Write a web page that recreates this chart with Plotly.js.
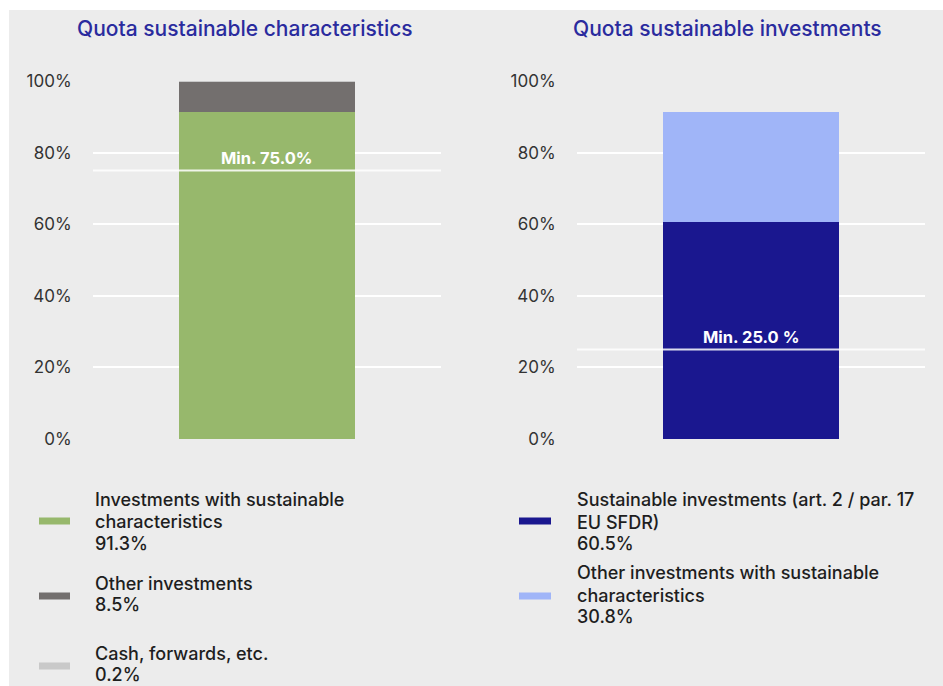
<!DOCTYPE html>
<html>
<head>
<meta charset="utf-8">
<script src="https://cdn.plot.ly/plotly-3.0.1.min.js"></script>
<style>
  html, body { margin: 0; padding: 0; background: #ffffff; }
  #chart { width: 943px; height: 686px; }
</style>
</head>
<body>
<div id="chart"></div>
<script>
// ---- Data ----
const panelTitles = ["Quota sustainable characteristics", "Quota sustainable investments"];
const category = ["Quota"];

const leftSeriesNames = ["Investments with sustainable characteristics", "Other investments", "Cash, forwards, etc."];
const leftSeriesValues = [91.3, 8.5, 0.2];
const leftLegendLines = [["Investments with sustainable", "characteristics", "91.3%"], ["Other investments", "8.5%"], ["Cash, forwards, etc.", "0.2%"]];

const rightSeriesNames = ["Sustainable investments (art. 2 / par. 17 EU SFDR)", "Other investments with sustainable characteristics"];
const rightSeriesValues = [60.5, 30.8];
const rightLegendLines = [["Sustainable investments (art. 2 / par. 17", "EU SFDR)", "60.5%"], ["Other investments with sustainable", "characteristics", "30.8%"]];

const minimumValues = [75.0, 25.0];
const minimumLabels = ["Min. 75.0%", "Min. 25.0 %"];

const yTickValues = [0, 20, 40, 60, 80, 100];
const yTickLabels = ["0%", "20%", "40%", "60%", "80%", "100%"];

// ---- Styles / layout geometry ----
const leftColors = ["#97b86c", "#736f6e", "#c9c9c9"];
const rightColors = ["#1a178f", "#a0b5f8"];
const W = 943, H = 686;
const px = x => x / W;
const py = y => 1 - y / H;
const FONT = "Inter, 'Open Sans', sans-serif";

const traces = [];
leftSeriesNames.forEach((n, i) => {
  traces.push({type: "bar", name: n, x: category, y: [leftSeriesValues[i]],
    xaxis: "x", yaxis: "y", width: 0.506, marker: {color: leftColors[i], line: {width: 0}},
    showlegend: false, hoverinfo: "name+y"});
});
rightSeriesNames.forEach((n, i) => {
  traces.push({type: "bar", name: n, x: category, y: [rightSeriesValues[i]],
    xaxis: "x2", yaxis: "y2", width: 0.506, marker: {color: rightColors[i], line: {width: 0}},
    showlegend: false, hoverinfo: "name+y"});
});

const yAxisBase = {
  range: [0, 100], tickvals: yTickValues, ticktext: yTickLabels,
  showgrid: true, gridcolor: "#ffffff", gridwidth: 2, zeroline: false, showline: false,
  ticks: "outside", ticklen: 17, tickcolor: "rgba(0,0,0,0)",
  tickfont: {family: FONT, size: 17, color: "#333333"}, fixedrange: true
};
const xAxisBase = {range: [-0.5, 0.5], showticklabels: false, showgrid: false, zeroline: false, showline: false, fixedrange: true};

const shapes = [
  {type: "rect", xref: "paper", yref: "paper", x0: px(9), x1: 1, y0: 0, y1: py(10),
   fillcolor: "#ececec", line: {width: 0}, layer: "below"}
];
["x", "x2"].forEach((xa, i) => {
  const ya = i === 0 ? "y" : "y2";
  shapes.push({type: "line", xref: xa + " domain", yref: ya, x0: 0, x1: 1,
    y0: minimumValues[i], y1: minimumValues[i], line: {color: "rgba(255,255,255,0.85)", width: 2}, layer: "above"});
});

// legend swatches (pixel geometry)
const legendLeftSwatchY = [521, 596, 666];
const legendRightSwatchY = [521, 596];
legendLeftSwatchY.forEach((y, i) => {
  shapes.push({type: "rect", xref: "paper", yref: "paper", x0: px(39), x1: px(70),
    y0: py(y + 3.5), y1: py(y - 3.5), fillcolor: leftColors[i], line: {width: 0}});
});
legendRightSwatchY.forEach((y, i) => {
  shapes.push({type: "rect", xref: "paper", yref: "paper", x0: px(519), x1: px(551),
    y0: py(y + 3.5), y1: py(y - 3.5), fillcolor: rightColors[i], line: {width: 0}});
});

const annotations = [];
// panel titles
[[245, panelTitles[0]], [727, panelTitles[1]]].forEach(([x, t]) => {
  annotations.push({xref: "paper", yref: "paper", x: px(x), y: py(29), xanchor: "center", yanchor: "middle",
    text: t, showarrow: false, font: {family: FONT, size: 21, color: "#2a2b9e", weight: 500}});
});
// min labels
["x", "x2"].forEach((xa, i) => {
  annotations.push({xref: xa, yref: i === 0 ? "y" : "y2", x: 0, y: minimumValues[i], yshift: 13,
    xanchor: "center", yanchor: "middle", text: minimumLabels[i], showarrow: false,
    font: {family: FONT, size: 16.5, color: "#ffffff", weight: 700}});
});
// legend text, one annotation per line
const legendLeftLineY = [[500, 521.5, 543], [583, 604.5], [653.5, 674]];
const legendRightLineY = [[500, 522, 543], [572, 595, 616]];
function addLegendLines(lines, ys, x) {
  lines.forEach((block, i) => block.forEach((t, j) => {
    annotations.push({xref: "paper", yref: "paper", x: px(x), y: py(ys[i][j]), xanchor: "left", yanchor: "middle",
      align: "left", text: t, showarrow: false, borderpad: 0,
      font: {family: FONT, size: 18, color: "#1e1e1e", weight: 500}});
  }));
}
addLegendLines(leftLegendLines, legendLeftLineY, 94);
addLegendLines(rightLegendLines, legendRightLineY, 576);

const layout = {
  width: W, height: H, margin: {l: 0, r: 0, t: 0, b: 0},
  paper_bgcolor: "#ffffff", plot_bgcolor: "rgba(0,0,0,0)",
  barmode: "stack", bargap: 0,
  xaxis: Object.assign({}, xAxisBase, {domain: [px(93), px(441)], anchor: "y"}),
  yaxis: Object.assign({}, yAxisBase, {domain: [py(439), py(81)], anchor: "x"}),
  xaxis2: Object.assign({}, xAxisBase, {domain: [px(577), px(925)], anchor: "y2"}),
  yaxis2: Object.assign({}, yAxisBase, {domain: [py(439), py(81)], anchor: "x2"}),
  shapes: shapes, annotations: annotations, showlegend: false,
  font: {family: FONT}
};

Plotly.newPlot("chart", traces, layout, {displayModeBar: false, staticPlot: true});
</script>
</body>
</html>
